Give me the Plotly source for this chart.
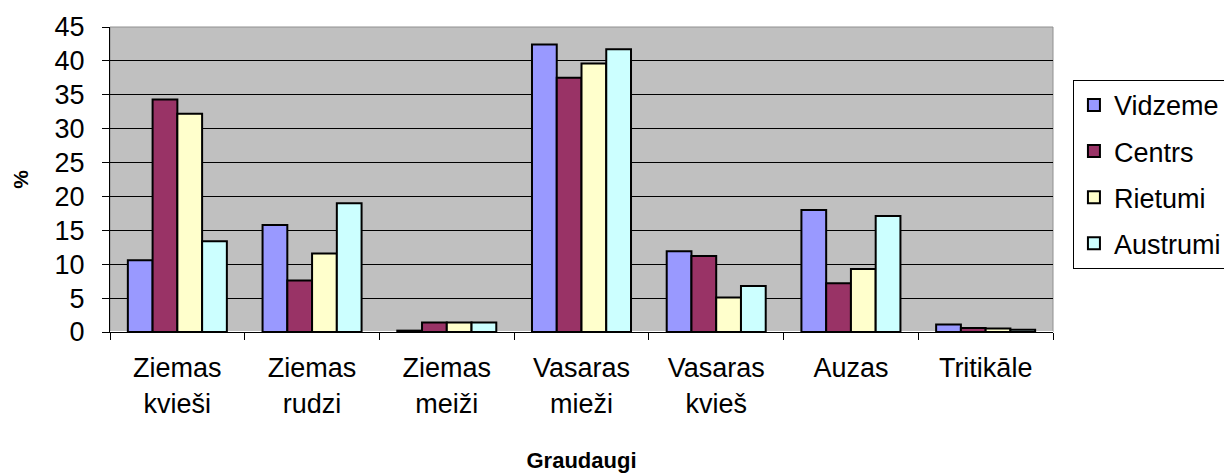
import plotly.graph_objects as go

categories = ["Ziemas<br>kvieši", "Ziemas<br>rudzi", "Ziemas<br>meiži", "Vasaras<br>mieži",
              "Vasaras<br>kvieš", "Auzas", "Tritikāle"]
vidzeme = [10.6, 15.8, 0.2, 42.4, 11.9, 18.0, 1.1]
centrs = [34.3, 7.6, 1.4, 37.5, 11.2, 7.2, 0.6]
rietumi = [32.2, 11.6, 1.4, 39.6, 5.1, 9.3, 0.5]
austrumi = [13.4, 19.0, 1.4, 41.7, 6.8, 17.1, 0.35]

series = [("Vidzeme", vidzeme, "#9999FF"), ("Centrs", centrs, "#993366"),
          ("Rietumi", rietumi, "#FFFFCC"), ("Austrumi", austrumi, "#CCFFFF")]

font = "Liberation Sans, Arial, sans-serif"
fig = go.Figure()
for name, vals, col in series:
    fig.add_trace(go.Bar(x=categories, y=vals, name=name, legendgroup=name,
                         marker=dict(color=col, line=dict(color="black", width=2))))

fig.update_layout(
    width=1232, height=473,
    margin=dict(l=102, r=187, t=19, b=149),
    paper_bgcolor="white", plot_bgcolor="#C0C0C0",
    barmode="group", bargap=0.265, bargroupgap=0,
    font=dict(family=font, size=27, color="black"),
    legend=dict(xref="container", yref="container", x=0.8644, y=0.848,
                xanchor="left", yanchor="top",
                bordercolor="black", borderwidth=1, bgcolor="white",
                font=dict(size=27), tracegroupgap=8, itemwidth=30),
    xaxis=dict(ticks="outside", tickson="boundaries", ticklen=7, tickcolor="black",
               showline=True, linecolor="black", linewidth=1, automargin=False,
               tickfont=dict(size=27), ticklabelstandoff=12,
               title=dict(text="<b>Graudaugi</b>", font=dict(size=22), standoff=35)),
    yaxis=dict(range=[0, 45], dtick=5, ticks="outside", ticklen=7, tickcolor="black",
               showline=True, linecolor="black", linewidth=1, automargin=False,
               showgrid=True, gridcolor="black", gridwidth=1,
               tickfont=dict(size=27), ticklabelstandoff=12,
               title=dict(text="<b>%</b>", font=dict(size=21), standoff=20)),
    shapes=[dict(type="rect", xref="paper", yref="paper", x0=0, x1=1, y0=0, y1=1,
                 line=dict(color="#909090", width=1), layer="below")],
)

fig.write_html("out.html")
